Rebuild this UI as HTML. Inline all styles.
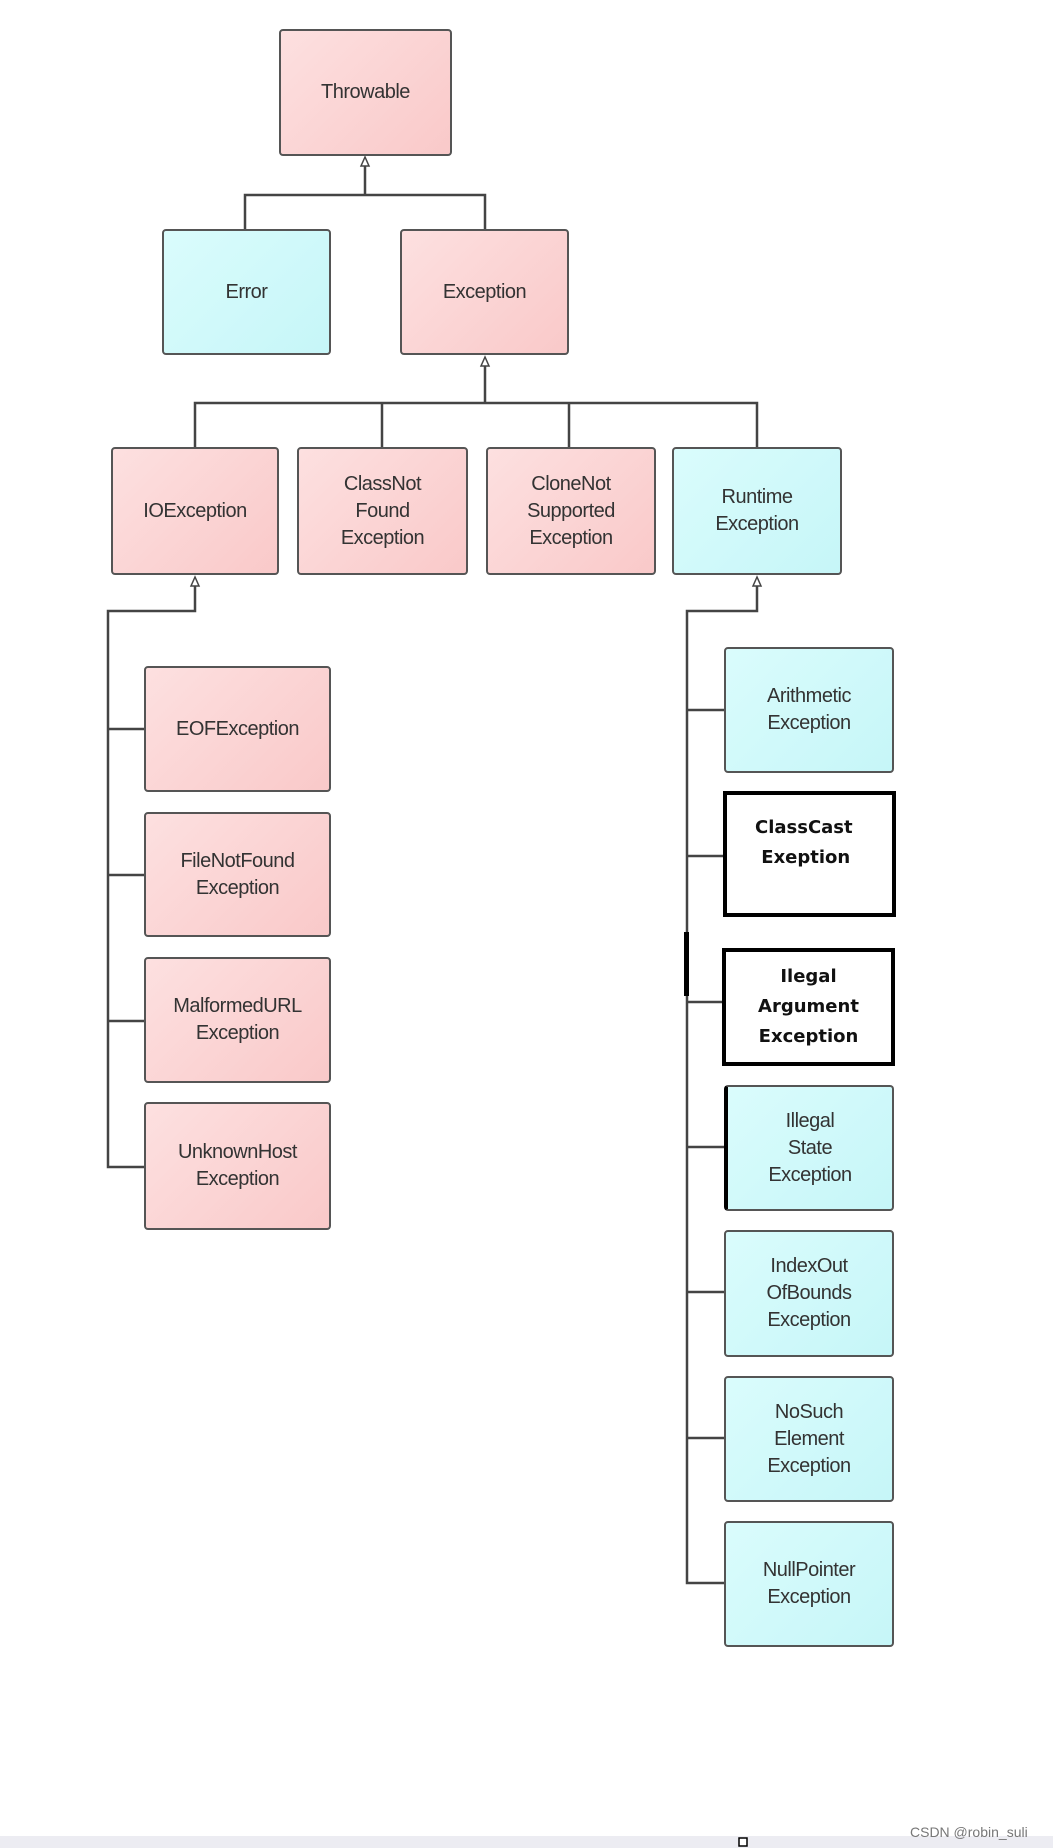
<!DOCTYPE html>
<html><head><meta charset="utf-8"><style>
body{margin:0;width:1053px;height:1848px;position:relative;background:#fff;font-family:"Liberation Sans",sans-serif;overflow:hidden}
.b{position:absolute;box-sizing:border-box;border:2px solid #555;border-radius:4px;display:flex;align-items:center;justify-content:center;text-align:center;font-size:20px;line-height:27px;color:#333;letter-spacing:-0.5px}
.p{background:linear-gradient(135deg,#fde0e0,#f9c9c9)}
.c{background:linear-gradient(135deg,#dafcfc,#c6f6f8)}
.k{border:4px solid #000;border-radius:0;background:#fff;font-weight:bold;color:#111;font-family:"DejaVu Sans",sans-serif;font-size:18px;line-height:30px;letter-spacing:0}
</style></head><body>
<svg width="1053" height="1848" style="position:absolute;left:0;top:0">
<g stroke="#444" stroke-width="2.5" fill="none">
<path d="M365 160V195M245 229V195H485V229"/>
<path d="M485 360V403M195 447V403H757V447M382 403V447M569 403V447"/>
<path d="M195 580V611H108V1167H144M108 729H144M108 875H144M108 1021H144"/>
<path d="M757 580V611H687V1583H724M687 710H724M687 856H724M687 1002H722M687 1147H724M687 1292H724M687 1438H724"/>
</g>
<g fill="#fff" stroke="#444" stroke-width="1.5">
<path d="M365 157l-4 9h8z"/><path d="M485 357l-4 9h8z"/><path d="M195 577l-4 9h8z"/><path d="M757 577l-4 9h8z"/>
</g>
<rect x="684" y="932" width="5" height="64" fill="#000"/>
<rect x="0" y="1836" width="1053" height="12" fill="#ececf2"/>
<rect x="739" y="1838" width="8" height="8" fill="#fff" stroke="#000" stroke-width="1.5"/>
</svg>
<div class="b p" style="left:279px;top:29px;width:173px;height:127px">Throwable</div>
<div class="b c" style="left:162px;top:229px;width:169px;height:126px">Error</div>
<div class="b p" style="left:400px;top:229px;width:169px;height:126px">Exception</div>
<div class="b p" style="left:111px;top:447px;width:168px;height:128px">IOException</div>
<div class="b p" style="left:297px;top:447px;width:171px;height:128px">ClassNot<br>Found<br>Exception</div>
<div class="b p" style="left:486px;top:447px;width:170px;height:128px">CloneNot<br>Supported<br>Exception</div>
<div class="b c" style="left:672px;top:447px;width:170px;height:128px">Runtime<br>Exception</div>
<div class="b p" style="left:144px;top:666px;width:187px;height:126px">EOFException</div>
<div class="b p" style="left:144px;top:812px;width:187px;height:125px">FileNotFound<br>Exception</div>
<div class="b p" style="left:144px;top:957px;width:187px;height:126px">MalformedURL<br>Exception</div>
<div class="b p" style="left:144px;top:1102px;width:187px;height:128px">UnknownHost<br>Exception</div>
<div class="b c" style="left:724px;top:647px;width:170px;height:126px">Arithmetic<br>Exception</div>
<div class="b k" style="left:723px;top:791px;width:173px;height:126px;align-items:flex-start;padding-top:18px;justify-content:flex-start;padding-left:28px;text-align:left">ClassCast<br>&nbsp;Exeption</div>
<div class="b k" style="left:722px;top:948px;width:173px;height:118px">Ilegal<br>Argument<br>Exception</div>
<div class="b c" style="left:724px;top:1085px;width:170px;height:126px;border-left:4px solid #000">Illegal<br>State<br>Exception</div>
<div class="b c" style="left:724px;top:1230px;width:170px;height:127px">IndexOut<br>OfBounds<br>Exception</div>
<div class="b c" style="left:724px;top:1376px;width:170px;height:126px">NoSuch<br>Element<br>Exception</div>
<div class="b c" style="left:724px;top:1521px;width:170px;height:126px">NullPointer<br>Exception</div>
<div style="position:absolute;left:910px;top:1824px;font-size:14px;color:#777">CSDN @robin_suli</div>
</body></html>
